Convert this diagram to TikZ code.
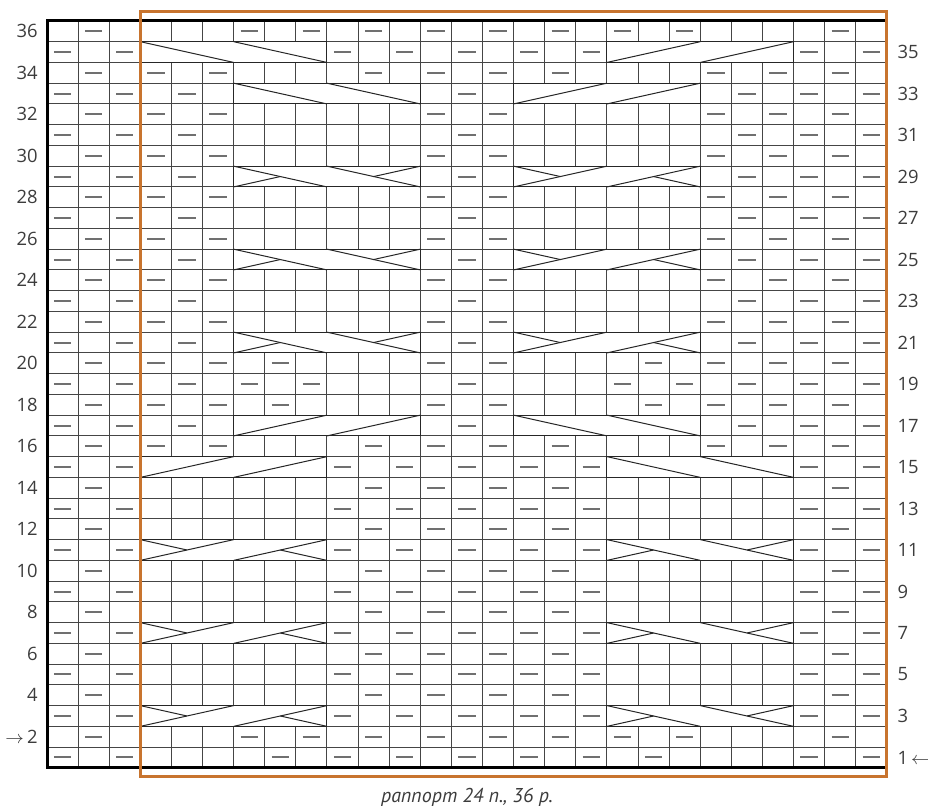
\documentclass[tikz,border=0pt]{standalone}
\usepackage{fontspec}
\setmainfont{Open Sans}
\newfontfamily\capfont{PT Sans}
\usepackage{tikz}
\definecolor{rapport}{HTML}{C8742E}
\definecolor{gridgray}{HTML}{454545}
\definecolor{purlgray}{HTML}{707070}
\definecolor{numgray}{HTML}{3C3C3C}

\tikzset{
  cablebox/.style={draw=black!85, line width=0.5pt},
  cabledown/.pic={
    \fill[white] (0,0) rectangle (6,1);
    \draw[cablebox] (0,0) rectangle (6,1);
    \draw[cablebox] (0,1) -- (3,0) (3,1) -- (6,0);
  },
  cableup/.pic={
    \fill[white] (0,0) rectangle (6,1);
    \draw[cablebox] (0,0) rectangle (6,1);
    \draw[cablebox] (0,0) -- (3,1) (3,0) -- (6,1);
  },
  crossdown/.pic={
    \pic {cabledown};
    \draw[cablebox] (0,0) -- (1.5,0.5) (4.5,0.5) -- (6,1);
  },
  crossup/.pic={
    \pic {cableup};
    \draw[cablebox] (0,1) -- (1.5,0.5) (4.5,0.5) -- (6,0);
  }
}

\begin{document}
\begin{tikzpicture}[
  x=15.556pt, y=10.375pt,
  gridline/.style={draw=gridgray, line width=0.5pt},
  purl/.style={draw=purlgray, line width=1pt},
  rownum/.style={inner sep=0pt, text=numgray, font=\fontsize{9.2}{10}\selectfont},
  caption/.style={inner sep=0pt, text=numgray, font=\capfont\itshape\fontsize{10}{12}\selectfont}
]
  \useasboundingbox (-1.511,-2.024) rectangle (28.32,37.01);

  % grid
  \foreach \y in {0,...,36}
    \draw[gridline] (0,\y) -- (27,\y);
  \foreach \x in {0,...,27}
    \draw[gridline] (\x,0) -- (\x,36);

  % purl stitches
  \foreach \rows/\cols in {
      {36,2}/{2,7,9,11,13,15,17,19,21,26},
      {35,15,13,11,9,7,5,3}/{1,3,10,12,14,16,18,25,27},
      {34,16}/{2,4,6,11,13,15,17,22,24,26},
      {33,31,29,27,25,23,21,17}/{1,3,5,14,23,25,27},
      {32,30,28,26,24,22}/{2,4,6,13,15,22,24,26},
      {20,18}/{2,4,6,8,13,15,20,22,24,26},
      {19}/{1,3,5,7,9,14,19,21,23,25,27},
      {14,12,10,8,6,4}/{2,11,13,15,17,26},
      {1}/{1,3,8,10,12,14,16,18,20,25,27}}
    \foreach \r in \rows
      \foreach \c in \cols
        \draw[purl] (\c-0.78,\r-0.5) -- (\c-0.22,\r-0.5);

  % cables
  \foreach \r/\a in {35/4, 33/7, 17/16, 15/19}
    \pic at (\a-1,\r-1) {cabledown};
  \foreach \r/\a in {35/19, 33/16, 17/7, 15/4}
    \pic at (\a-1,\r-1) {cableup};
  \foreach \r/\a in {29/7, 25/7, 21/7, 11/19, 7/19, 3/19}
    \pic at (\a-1,\r-1) {crossdown};
  \foreach \r/\a in {29/16, 25/16, 21/16, 11/4, 7/4, 3/4}
    \pic at (\a-1,\r-1) {crossup};

  % frame and repeat
  \draw[line width=1.5pt, line cap=rect] (27,0) -- (0,0) -- (0,36) -- (27,36);
  \draw[rapport, line width=1.5pt] (3,-0.43) rectangle (27,36.47);

  % row numbers
  \foreach \r in {4,6,...,36}
    \node[rownum, anchor=east] (left\r) at (-0.29,\r-0.5) {\r};
  \node[rownum, anchor=east] (left2) at (-0.29,1.5) {$\rightarrow$\,2};
  \foreach \r in {3,5,...,35}
    \node[rownum, anchor=west] (right\r) at (27.33,\r-0.5) {\r};
  \node[rownum, anchor=west] (right1) at (27.33,0.5) {1\,$\leftarrow$};

  \node[caption] (rapportlabel) at (13.5,-1.4) {раппорт 24 п., 36 р.};
\end{tikzpicture}
\end{document}
